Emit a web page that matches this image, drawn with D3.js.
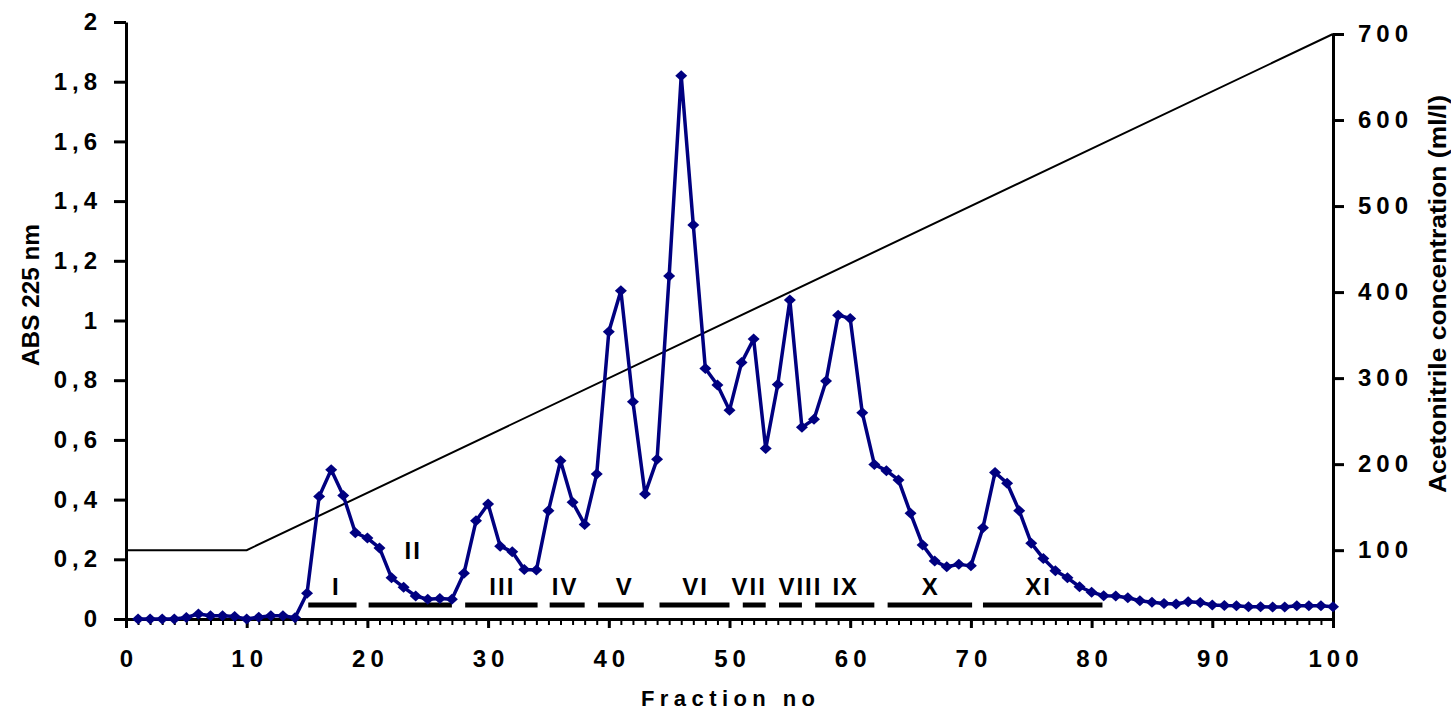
<!DOCTYPE html>
<html>
<head>
<meta charset="utf-8">
<script src="https://cdn.jsdelivr.net/npm/d3@7"></script>
<style>
  body { margin: 0; background: #fff; }
  svg text { font-family: "Liberation Sans", Arial, sans-serif; font-weight: bold; fill: #000; }
  .axis path, .axis line { stroke: #000; stroke-width: 3px; }
  .axis text { font-size: 24px; letter-spacing: 5px; }
</style>
</head>
<body>
<div id="chart"></div>
<script>
// absorbance at 225 nm, one value per fraction (fractions 1..100)
var absorbance = [
  0.000, 0.000, 0.000, 0.000, 0.005, 0.017, 0.011, 0.011, 0.008, 0.000,
  0.006, 0.011, 0.011, 0.004, 0.086, 0.410, 0.500, 0.414, 0.289, 0.271,
  0.238, 0.138, 0.106, 0.077, 0.066, 0.069, 0.066, 0.153, 0.329, 0.385,
  0.244, 0.225, 0.166, 0.164, 0.363, 0.530, 0.391, 0.317, 0.486, 0.962,
  1.100, 0.728, 0.419, 0.535, 1.149, 1.820, 1.320, 0.839, 0.784, 0.699,
  0.859, 0.938, 0.571, 0.786, 1.069, 0.642, 0.669, 0.797, 1.018, 1.007,
  0.691, 0.518, 0.497, 0.466, 0.354, 0.248, 0.194, 0.175, 0.183, 0.178,
  0.306, 0.491, 0.455, 0.363, 0.254, 0.203, 0.162, 0.138, 0.108, 0.090,
  0.078, 0.077, 0.071, 0.061, 0.056, 0.052, 0.050, 0.058, 0.055, 0.047,
  0.045, 0.044, 0.041, 0.041, 0.040, 0.040, 0.044, 0.044, 0.044, 0.041
];

// acetonitrile gradient (ml/l)
var gradientFraction = [0, 10, 100];
var gradientConc = [100, 100, 700];

// pooled fractions
var poolNames = ["I", "II", "III", "IV", "V", "VI", "VII", "VIII", "IX", "X", "XI"];
var poolStart = [15.1, 20.1, 28.1, 35.1, 39.1, 44.2, 51.1, 54.1, 57.1, 63.1, 71.0];
var poolEnd   = [19.1, 27.0, 34.1, 38.0, 42.9, 50.0, 53.0, 56.0, 62.0, 70.1, 80.9];

var leftTicks = [0, 0.2, 0.4, 0.6, 0.8, 1, 1.2, 1.4, 1.6, 1.8, 2];
var rightTicks = [100, 200, 300, 400, 500, 600, 700];
var xMajorTicks = [0, 10, 20, 30, 40, 50, 60, 70, 80, 90, 100];

var W = 1451, H = 714;
var plot = { left: 126, right: 1333, top: 22, bottom: 619 };

var x = d3.scaleLinear().domain([0, 100]).range([plot.left, plot.right]);
var yL = d3.scaleLinear().domain([0, 2]).range([plot.bottom, plot.top]);
var yR = d3.scaleLinear().domain([20, 700]).range([plot.bottom, 34]);

var svg = d3.select("#chart").append("svg")
    .attr("width", W)
    .attr("height", H);

svg.append("rect").attr("width", W).attr("height", H).attr("fill", "#fff");

function commaFmt(d) { return (+d.toFixed(1)).toString().replace(".", ","); }

// x axis: minor ticks every fraction, major every 10
svg.append("g")
    .attr("class", "axis")
    .attr("transform", "translate(0," + plot.bottom + ")")
    .call(d3.axisBottom(x).tickValues(d3.range(1, 100)).tickSize(6).tickSizeOuter(0).tickFormat(""))
    .call(function(g) { g.select(".domain").remove(); g.selectAll("line").style("stroke-width", "2px"); });

svg.append("g")
    .attr("class", "axis")
    .attr("transform", "translate(0," + plot.bottom + ")")
    .call(d3.axisBottom(x).tickValues(xMajorTicks).tickSize(9).tickSizeOuter(0).tickPadding(22))
    .selectAll("text").attr("dx", "2.5px");

svg.append("g")
    .attr("class", "axis")
    .attr("transform", "translate(" + plot.left + ",0)")
    .call(d3.axisLeft(yL).tickValues(leftTicks).tickSize(12).tickSizeOuter(0).tickPadding(12).tickFormat(commaFmt));

svg.append("g")
    .attr("class", "axis")
    .attr("transform", "translate(" + plot.right + ",0)")
    .call(d3.axisRight(yR).tickValues(rightTicks).tickSize(11).tickSizeOuter(0).tickPadding(14));

// axis titles
svg.append("text")
    .attr("transform", "translate(39," + 295 + ") rotate(-90)")
    .attr("text-anchor", "middle")
    .attr("font-size", "24px")
    .attr("textLength", 142)
    .attr("lengthAdjust", "spacingAndGlyphs")
    .text("ABS 225 nm");

svg.append("text")
    .attr("transform", "translate(1446," + 294 + ") rotate(-90)")
    .attr("text-anchor", "middle")
    .attr("font-size", "23px")
    .attr("textLength", 398)
    .attr("lengthAdjust", "spacingAndGlyphs")
    .text("Acetonitrile concentration (ml/l)");

svg.append("text")
    .attr("x", 728)
    .attr("y", 706)
    .attr("text-anchor", "middle")
    .attr("font-size", "22px")
    .attr("textLength", 174)
    .attr("lengthAdjust", "spacing")
    .text("Fraction no");

// gradient line on right axis
var gradData = gradientFraction.map(function(f, i) { return [f, gradientConc[i]]; });
svg.append("path")
    .datum(gradData)
    .attr("fill", "none")
    .attr("stroke", "#000")
    .attr("stroke-width", 2)
    .attr("d", d3.line().x(function(d) { return x(d[0]); }).y(function(d) { return yR(d[1]); }));

// pooled fraction bars + labels
var pools = poolNames.map(function(n, i) { return { name: n, a: poolStart[i], b: poolEnd[i] }; });

svg.selectAll(".pool")
    .data(pools)
  .enter().append("line")
    .attr("class", "pool")
    .attr("x1", function(d) { return x(d.a); })
    .attr("x2", function(d) { return x(d.b); })
    .attr("y1", 605).attr("y2", 605)
    .attr("stroke", "#000")
    .attr("stroke-width", 5);

// labels sit a little off-centre where they are crowded
var labelShift = { I: 3, II: 2, IV: -3, V: 3, VII: -6, VIII: 9, XI: -5 };

svg.selectAll(".poolLabel")
    .data(pools)
  .enter().append("text")
    .attr("class", "poolLabel")
    .attr("x", function(d) { return x((d.a + d.b) / 2) + 1 + (labelShift[d.name] || 0); })
    .attr("y", function(d) { return d.name === "II" ? 559 : 595; })
    .attr("text-anchor", "middle")
    .attr("font-size", "24px")
    .attr("letter-spacing", "2px")
    .text(function(d) { return d.name; });

// absorbance series
var pts = absorbance.map(function(v, i) { return [i + 1, v]; });

svg.append("path")
    .datum(pts)
    .attr("fill", "none")
    .attr("stroke", "#000080")
    .attr("stroke-width", 3.5)
    .attr("stroke-linejoin", "round")
    .attr("d", d3.line().x(function(d) { return x(d[0]); }).y(function(d) { return yL(d[1]); }));

svg.selectAll(".pt")
    .data(pts)
  .enter().append("path")
    .attr("class", "pt")
    .attr("transform", function(d) { return "translate(" + x(d[0]) + "," + yL(d[1]) + ")"; })
    .attr("d", "M0,-5.5L6,0L0,5.5L-6,0Z")
    .attr("fill", "#000080");
</script>
</body>
</html>
